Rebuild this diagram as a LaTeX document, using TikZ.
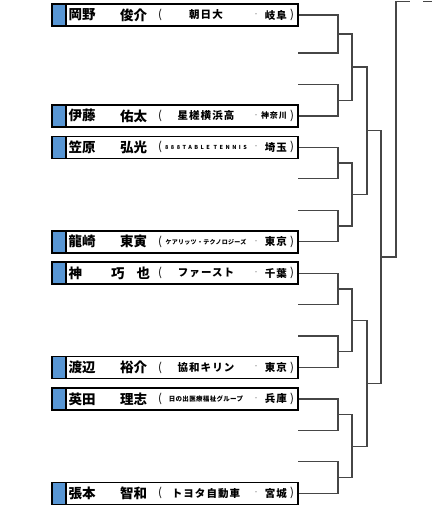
\documentclass[tikz,border=0pt]{standalone}
\usepackage{fontspec}
\newfontfamily\jp{Noto Sans CJK JP}
\definecolor{boxblue}{RGB}{88,150,212}
\definecolor{brkgray}{RGB}{70,70,70}
\tikzset{
  pbox/.style={draw=black, line width=1.6pt, fill=white, minimum width=246pt, minimum height=22pt, inner sep=0pt,
    path picture={\fill[boxblue] (path picture bounding box.north west) rectangle ([xshift=14pt]path picture bounding box.south west);
      \draw[line width=1.3pt] ([xshift=14pt]path picture bounding box.north west) -- ([xshift=14pt]path picture bounding box.south west);}},
  nm/.style={inner sep=0pt, font=\jp\bfseries\fontsize{13.5}{13.5}\selectfont},
  par/.style={inner sep=0pt, font=\jp\fontsize{11.5}{11.5}\selectfont},
  aff/.style={inner sep=0pt, font=\jp\bfseries\fontsize{10.5}{10.5}\selectfont\addfontfeatures{LetterSpace=10}},
  dotm/.style={inner sep=0pt, text=gray, font=\jp\fontsize{6}{6}\selectfont},
  pref/.style={inner sep=0pt, font=\jp\bfseries\fontsize{10.5}{10.5}\selectfont\addfontfeatures{LetterSpace=10}},
  brk/.style={draw=brkgray, line width=1.2pt},
}
\newcommand\plr[6]{%
  \node[pbox] (#1) at (175,#2) {};
  \node[nm, anchor=west] (#1f) at (68.5,#2) {#3};
  \node[nm, anchor=west] (#1g) at (120,#2) {#4};
  \node[par] (#1l) at (160,#2) {(};
  \node[aff] (#1a) at (206,#2) {#5};
  \node[dotm] (#1d) at (256,#2) {・};
  \node[pref, anchor=east] (#1p) at (287,#2) {#6};
  \node[par] (#1r) at (292,#2) {)};
}
\begin{document}
\begin{tikzpicture}[x=1pt, y=-1pt]
\useasboundingbox (0,0) rectangle (432,527);
% players
\plr{pa}{15}{岡野}{俊介}{朝日大}{岐阜}
\plr{pb}{115.9}{伊藤}{佑太}{星槎横浜高}{{\fontsize{8}{8}\selectfont 神奈川}}
\plr{pc}{147.3}{笠原}{弘光}{{\fontsize{5.5}{5.5}\selectfont\addfontfeatures{LetterSpace=45}888TABLE TENNIS}}{埼玉}
\plr{pd}{241.7}{龍崎}{東寅}{{\fontsize{6}{6}\selectfont\addfontfeatures{LetterSpace=5}ケアリッツ・テクノロジーズ}}{東京}
\plr{pe}{273.1}{神}{\hspace{-9pt}巧\hspace{12pt}也}{ファースト}{千葉}
\plr{pf}{367.5}{渡辺}{裕介}{協和キリン}{東京}
\plr{pg}{398.9}{英田}{理志}{{\fontsize{6.5}{6.5}\selectfont\addfontfeatures{LetterSpace=5}日の出医療福祉グループ}}{兵庫}
\plr{ph}{493.3}{張本}{智和}{トヨタ自動車}{宮城}
% empty slots
\coordinate (ea) at (298,53);
\coordinate (eb) at (298,84.4);
\coordinate (ec) at (298,178.8);
\coordinate (ed) at (298,210.2);
\coordinate (ee) at (298,304.6);
\coordinate (ef) at (298,336);
\coordinate (eg) at (298,430.4);
\coordinate (eh) at (298,461.8);
% round 1 junctions
\coordinate (q1) at (338,34);
\coordinate (q2) at (338,100.2);
\coordinate (q3) at (338,163);
\coordinate (q4) at (338,226);
\coordinate (q5) at (338,288.9);
\coordinate (q6) at (338,351.8);
\coordinate (q7) at (338,414.7);
\coordinate (q8) at (338,477.6);
\draw[brk] (pa.east) -| (q1) |- (ea);
\draw[brk] (eb) -| (q2) |- (pb.east);
\draw[brk] (pc.east) -| (q3) |- (ec);
\draw[brk] (ed) -| (q4) |- (pd.east);
\draw[brk] (pe.east) -| (q5) |- (ee);
\draw[brk] (ef) -| (q6) |- (pf.east);
\draw[brk] (pg.east) -| (q7) |- (eg);
\draw[brk] (eh) -| (q8) |- (ph.east);
% round 2
\coordinate (u1) at (352,67.1);
\coordinate (u2) at (352,194.5);
\coordinate (u3) at (352,320.3);
\coordinate (u4) at (352,446.1);
\draw[brk] (q1) -| (u1) |- (q2);
\draw[brk] (q3) -| (u2) |- (q4);
\draw[brk] (q5) -| (u3) |- (q6);
\draw[brk] (q7) -| (u4) |- (q8);
% round 3
\coordinate (v1) at (367,130.8);
\coordinate (v2) at (367,383.2);
\draw[brk] (u1) -| (v1) |- (u2);
\draw[brk] (u3) -| (v2) |- (u4);
% round 4
\coordinate (w1) at (381,257);
\draw[brk] (v1) -| (w1) |- (v2);
% round 5
\coordinate (t1) at (396,1.2);
\coordinate (t2) at (410,1.2);
\coordinate (t3) at (423,1.2);
\coordinate (t4) at (432,1.2);
\draw[brk] (w1) -| (t1) -- (t2);
\draw[brk] (t3) -- (t4);
\end{tikzpicture}
\end{document}
